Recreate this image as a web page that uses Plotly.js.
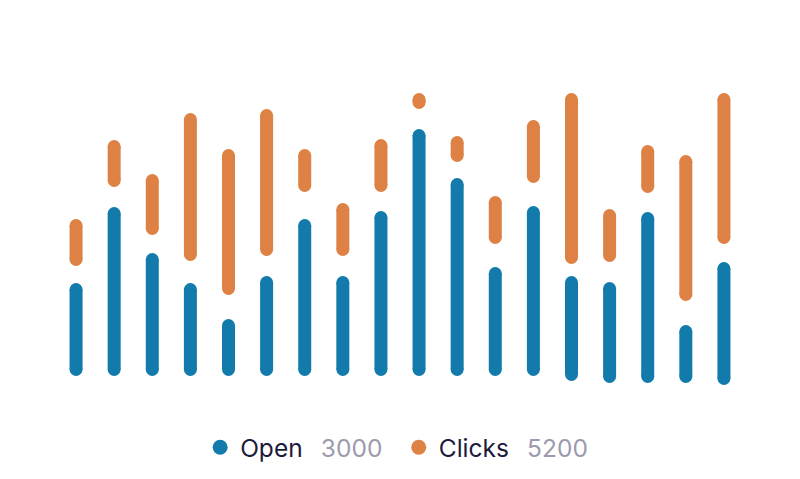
<!DOCTYPE html>
<html>
<head>
<meta charset="utf-8">
<script src="https://cdn.plot.ly/plotly-3.0.1.min.js"></script>
<style>
  html, body { margin: 0; padding: 0; background: #ffffff; }
  #chart { width: 800px; height: 479px; }
</style>
</head>
<body>
<div id="chart"></div>
<script>
// ---- data ----
const categories = [1, 2, 3, 4, 5, 6, 7, 8, 9, 10, 11, 12, 13, 14, 15, 16, 17, 18];
const openStart  = [0, 0, 0, 0, 0, 0, 0, 0, 0, 0, 0, 0, 0, -50, -70, -70, -70, -90];
const openEnd    = [800, 1560, 1100, 800, 440, 870, 1440, 870, 1520, 2340, 1850, 960, 1570, 870, 810, 1510, 380, 1010];
const clickStart = [1100, 1890, 1410, 1150, 810, 1200, 1840, 1200, 1840, 2670, 2140, 1320, 1930, 1120, 1140, 1830, 750, 1320];
const clickEnd   = [1440, 2230, 1890, 2500, 2140, 2540, 2140, 1600, 2240, 2700, 2270, 1670, 2430, 2700, 1540, 2180, 2080, 2700];
const seriesNames  = ["Open", "Clicks"];
const seriesTotals = [3000, 5200];

// ---- styles ----
const BLUE = "#137bab";
const ORANGE = "#de8144";
const DARK = "#1d1a3b";
const GREY = "#9c9aae";
const W = 13;

function segments(starts, ends) {
  const xs = [], ys = [];
  categories.forEach((c, i) => {
    xs.push(c, c, null);
    ys.push(starts[i], ends[i], null);
  });
  return { xs, ys };
}

function rangeTrace(starts, ends, color) {
  const s = segments(starts, ends);
  return {
    type: "scatter",
    mode: "lines+markers",
    x: s.xs,
    y: s.ys,
    connectgaps: false,
    line: { color: color, width: W },
    marker: { color: color, size: W, line: { width: 0 } },
    showlegend: false,
    hoverinfo: "skip",
    cliponaxis: false
  };
}

function legendTrace(name, total, color, trailing) {
  return {
    type: "scatter",
    mode: "markers",
    x: [null],
    y: [null],
    name: name + "  \u2009<span style=\"color:" + GREY + "\">" + total + "</span>" + trailing,
    marker: { color: color, size: 15, line: { width: 0 } },
    showlegend: true,
    hoverinfo: "skip"
  };
}

const data = [
  rangeTrace(openStart, openEnd, BLUE),
  rangeTrace(clickStart, clickEnd, ORANGE),
  legendTrace(seriesNames[0], seriesTotals[0], BLUE, " \u2009"),
  legendTrace(seriesNames[1], seriesTotals[1], ORANGE, "")
];

const layout = {
  width: 800,
  height: 479,
  margin: { l: 57, r: 57, t: 60, b: 79 },
  paper_bgcolor: "#ffffff",
  plot_bgcolor: "#ffffff",
  font: { family: "Inter, 'Noto Sans', sans-serif", color: DARK, size: 24.5 },
  xaxis: {
    range: [0.5, 18.5],
    visible: false,
    fixedrange: true
  },
  yaxis: {
    range: [-305, 3095],
    visible: false,
    fixedrange: true
  },
  showlegend: true,
  legend: {
    orientation: "h",
    xref: "container",
    yref: "container",
    x: 0.4958,
    xanchor: "center",
    y: 0.066,
    yanchor: "middle",
    font: { family: "Inter, 'Noto Sans', sans-serif", size: 24.5, color: DARK },
    itemclick: false,
    itemdoubleclick: false,
    bgcolor: "rgba(0,0,0,0)"
  },
  hovermode: false
};

Plotly.newPlot("chart", data, layout, { displayModeBar: false, staticPlot: true });
</script>
</body>
</html>
